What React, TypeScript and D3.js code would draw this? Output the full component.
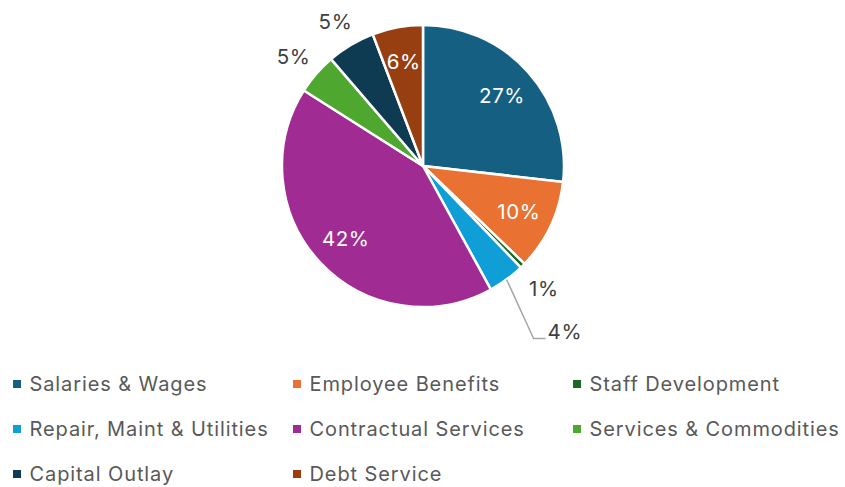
import React from "react";
import * as d3 from "d3";

const categories = [
  "Salaries & Wages",
  "Employee Benefits",
  "Staff Development",
  "Repair, Maint & Utilities",
  "Contractual Services",
  "Services & Commodities",
  "Capital Outlay",
  "Debt Service",
];
const values = [26.8, 10.4, 0.6, 4.2, 42.0, 4.7, 5.5, 5.8];
const labels = ["27%", "10%", "1%", "4%", "42%", "5%", "5%", "6%"];
const colors = ["#156082", "#E97132", "#196B24", "#0F9ED5", "#A02B93", "#4EA72E", "#0E3A52", "#983F12"];
const insideLabel = [true, true, false, false, true, false, false, true];

const W = 845;
const H = 487;
const FONT = "Inter, 'Open Sans', sans-serif";

export default function App() {
  const cx = 423;
  const cy = 166;
  const r = 141;
  const data = categories.map((c, i) => ({ c, v: values[i], i }));
  const pie = d3.pie<any>().value((d) => d.v).sort(null).startAngle(0).endAngle(2 * Math.PI);
  const arcs = pie(data);
  const arc = d3.arc<any>().innerRadius(0).outerRadius(r);
  const pt = (a: number, rr: number) => [Math.sin(a) * rr, -Math.cos(a) * rr];

  const legendCols = [17, 297, 577];
  const legendRows = [384, 429, 474];
  const lblStyle = { fontSize: 20.5, letterSpacing: 0.6, fontFamily: FONT };

  return (
    <svg width={W} height={H} style={{ position: "absolute", left: 0, top: 0 }}>
      <g transform={`translate(${cx},${cy})`}>
        {arcs.map((a, i) => (
          <path key={i} d={arc(a) || ""} fill={colors[i]} stroke="#fff" strokeWidth={2.5} strokeLinejoin="round" />
        ))}
        {arcs.map((a, i) => {
          const mid = (a.startAngle + a.endAngle) / 2;
          if (insideLabel[i]) {
            const [x, y] = pt(mid, 106);
            return (
              <text key={i} x={x} y={y} textAnchor="middle" dominantBaseline="central" fill="#fff" style={lblStyle}>
                {labels[i]}
              </text>
            );
          }
          if (i === 3) {
            const [x0, y0] = pt(mid, r);
            const [x1, y1] = [x0 + 27, y0 + 59];
            return (
              <g key={i}>
                <polyline points={`${x0},${y0} ${x1},${y1} ${x1 + 12},${y1}`} fill="none" stroke="#A6A6A6" strokeWidth={1.5} />
                <text x={x1 + 14} y={y1 - 7} dominantBaseline="central" fill="#404040" style={lblStyle}>
                  {labels[i]}
                </text>
              </g>
            );
          }
          const [x, y] = pt(mid, 171);
          return (
            <text key={i} x={x} y={y + 2} textAnchor="middle" dominantBaseline="central" fill="#404040" style={lblStyle}>
              {labels[i]}
            </text>
          );
        })}
      </g>
      {categories.map((c, i) => {
        const x = legendCols[i % 3];
        const y = legendRows[Math.floor(i / 3)];
        return (
          <g key={c}>
            <rect x={x - 4} y={y - 4} width={8} height={8} fill={colors[i]} />
            <text x={x + 12.5} y={y} dominantBaseline="central" fill="#595959" fontSize={20} letterSpacing={0.9} fontFamily={FONT}>
              {c}
            </text>
          </g>
        );
      })}
    </svg>
  );
}
